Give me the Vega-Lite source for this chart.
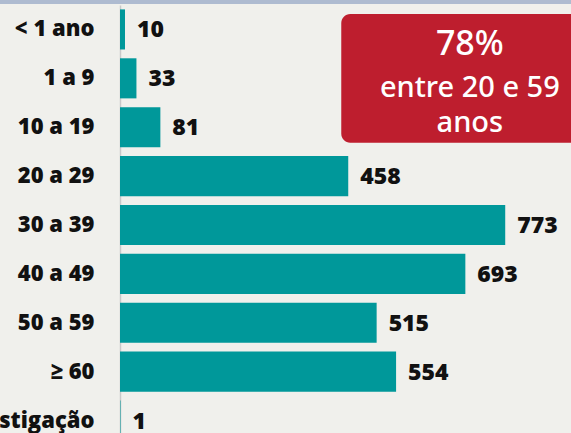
{
  "$schema": "https://vega.github.io/schema/vega-lite/v6.json",
  "autosize": {"type": "none"},
  "padding": {"left": 120, "top": 5, "right": 0, "bottom": 0},
  "width": 451,
  "height": 428,
  "background": "#f0f0ec",
  "config": {"view": {"stroke": null}},
  "layer": [
    {
      "data": {"values": [
        {"age": "< 1 ano", "n": 10},
        {"age": "1 a 9", "n": 33},
        {"age": "10 a 19", "n": 81},
        {"age": "20 a 29", "n": 458},
        {"age": "30 a 39", "n": 773},
        {"age": "40 a 49", "n": 693},
        {"age": "50 a 59", "n": 515},
        {"age": "≥ 60", "n": 554},
        {"age": "Em investigação", "n": 1}
      ]},
      "encoding": {
        "y": {
          "field": "age", "type": "nominal", "sort": null,
          "scale": {"range": [0, 440], "paddingInner": 0.18, "paddingOuter": 0.09},
          "axis": {
            "title": null, "ticks": false, "domain": true, "domainColor": "#c9c9c9", "domainWidth": 1.5,
            "labelFont": "Open Sans", "labelFontWeight": 800, "labelFontSize": 22, "labelColor": "#111111",
            "labelPadding": 26, "labelLimit": 0
          }
        },
        "x": {"field": "n", "type": "quantitative", "scale": {"domain": [0, 905], "nice": false}, "axis": null}
      },
      "layer": [
        {"mark": {"type": "bar", "color": "#00989a"}},
        {"mark": {"type": "text", "align": "left", "baseline": "middle", "dx": 12, "dy": 1, "font": "Open Sans", "fontWeight": 800, "fontSize": 23, "color": "#111111"},
         "encoding": {"text": {"field": "n", "type": "quantitative"}}}
      ]
    },
    {
      "encoding": {
        "y": {"field": "row", "type": "quantitative", "scale": {"domain": [0, 9], "range": [0, 440], "nice": false, "zero": false}, "axis": null},
        "x": {"field": "x", "type": "quantitative", "scale": {"domain": [0, 905], "nice": false}, "axis": null}
      },
      "layer": [
        {
          "data": {"values": [{"x": -300, "x2": 1300, "row": -0.11, "row2": -0.02}]},
          "mark": {"type": "rect", "color": "#aebbd0"},
          "encoding": {"x2": {"field": "x2"}, "y2": {"field": "row2"}}
        },
        {
          "data": {"values": [{"x": 444, "x2": 960, "row": 0.184, "row2": 2.82}]},
          "mark": {"type": "rect", "color": "#be1e2e", "cornerRadius": 9},
          "encoding": {"x2": {"field": "x2"}, "y2": {"field": "row2"}}
        },
        {
          "data": {"values": [{"x": 702, "row": 1.02, "label": "78%"}]},
          "mark": {"type": "text", "align": "center", "baseline": "alphabetic", "font": "Noto Sans", "fontWeight": 500, "fontSize": 34, "color": "#ffffff"},
          "encoding": {"text": {"field": "label"}}
        },
        {
          "data": {"values": [{"x": 702, "row": 1.88, "label": "entre 20 e 59"}, {"x": 702, "row": 2.6, "label": "anos"}]},
          "mark": {"type": "text", "align": "center", "baseline": "alphabetic", "font": "Noto Sans", "fontWeight": 500, "fontSize": 29, "color": "#ffffff"},
          "encoding": {"text": {"field": "label"}}
        }
      ]
    }
  ],
  "resolve": {"scale": {"y": "independent", "x": "shared"}}
}
